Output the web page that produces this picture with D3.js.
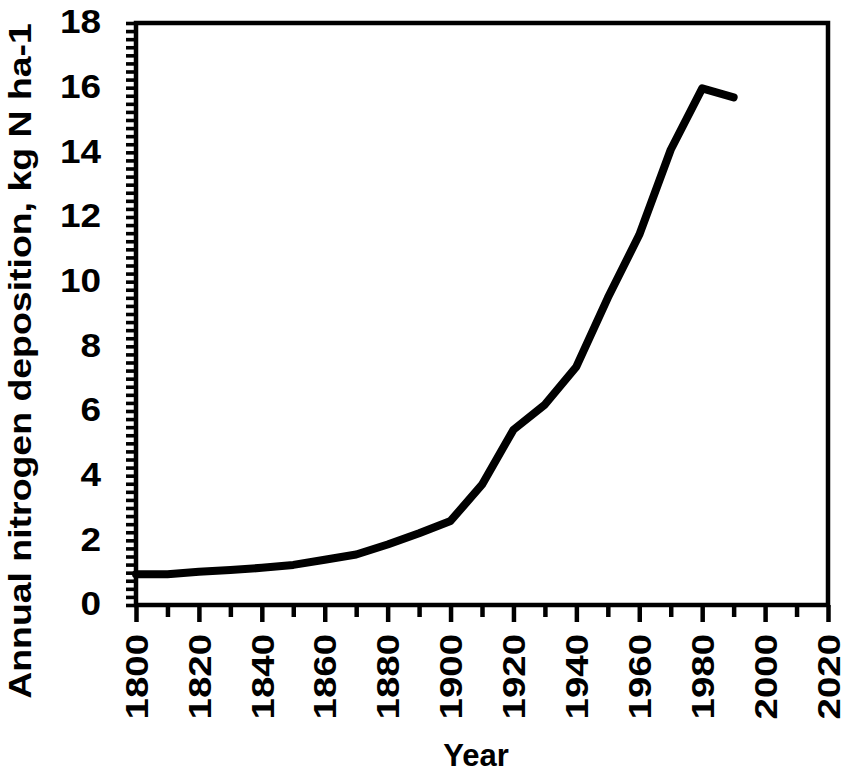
<!DOCTYPE html>
<html>
<head>
<meta charset="utf-8">
<script src="https://cdn.jsdelivr.net/npm/d3@7"></script>
<style>
  html, body { margin: 0; padding: 0; background: #fff; }
  svg { display: block; font-family: "Liberation Sans", Arial, sans-serif; }
</style>
</head>
<body>
<svg id="chart" width="851" height="773"></svg>
<script>
const years = [1800, 1810, 1820, 1830, 1840, 1850, 1860, 1870, 1880, 1890, 1900, 1910, 1920, 1930, 1940, 1950, 1960, 1970, 1980, 1990];
const deposition = [0.95, 0.95, 1.03, 1.08, 1.15, 1.24, 1.4, 1.56, 1.87, 2.22, 2.6, 3.72, 5.42, 6.2, 7.37, 9.5, 11.45, 14.08, 15.98, 15.7];
const xTickValues = [1800, 1820, 1840, 1860, 1880, 1900, 1920, 1940, 1960, 1980, 2000, 2020];
const yTickValues = [0, 2, 4, 6, 8, 10, 12, 14, 16, 18];
const xTitle = "Year";
const yTitle = "Annual nitrogen deposition, kg N ha-1";

const svg = d3.select("#chart");
const mLeft = 136, mRight = 828, mTop = 23, mBottom = 605;

const x = d3.scaleLinear().domain([1800, 2020]).range([mLeft, mRight]);
const y = d3.scaleLinear().domain([0, 18]).range([mBottom, mTop]);

// minor y ticks every 0.25
const yAxisMinor = d3.axisLeft(y).tickValues(d3.range(0, 18.001, 0.25)).tickSize(10).tickFormat("");
const gy = svg.append("g").attr("transform", `translate(${mLeft},0)`).call(yAxisMinor);
gy.select(".domain").remove();
gy.selectAll(".tick line").attr("stroke", "#000").attr("stroke-width", 3.6);

// y labels
const gyl = svg.append("g").attr("transform", `translate(${mLeft},0)`)
  .call(d3.axisLeft(y).tickValues(yTickValues).tickSize(0).tickPadding(0));
gyl.select(".domain").remove();
gyl.selectAll(".tick text")
  .attr("x", null)
  .attr("transform", "translate(-35,0) scale(1.12,1)")
  .attr("dy", "0.3em")
  .attr("text-anchor", "end")
  .style("font-size", "33px").style("font-weight", "bold").style("font-family", "'Liberation Sans', Arial, sans-serif").attr("fill", "#000");

// x ticks: minor every 10, major every 20
const gxMinor = svg.append("g").attr("transform", `translate(0,${mBottom})`)
  .call(d3.axisBottom(x).tickValues(d3.range(1810, 2020, 20)).tickSize(12).tickFormat(""));
gxMinor.select(".domain").remove();
gxMinor.selectAll(".tick line").attr("stroke", "#000").attr("stroke-width", 4.5);

const gx = svg.append("g").attr("transform", `translate(0,${mBottom})`)
  .call(d3.axisBottom(x).tickValues(xTickValues).tickSize(17).tickFormat(d3.format("d")));
gx.select(".domain").remove();
gx.selectAll(".tick line").attr("stroke", "#000").attr("stroke-width", 4.5);
gx.selectAll(".tick text")
  .attr("y", null)
  .attr("transform", "translate(0,29) rotate(-90) scale(1.2,1)")
  .attr("dy", "0.35em")
  .attr("text-anchor", "end")
  .style("font-size", "32px").style("font-weight", "bold").style("font-family", "'Liberation Sans', Arial, sans-serif").attr("fill", "#000");

// frame
svg.append("rect")
  .attr("x", mLeft).attr("y", mTop)
  .attr("width", mRight - mLeft).attr("height", mBottom - mTop)
  .attr("fill", "none").attr("stroke", "#000").attr("stroke-width", 4.5);

// line
const line = d3.line().x((d, i) => x(years[i])).y(d => y(d));
svg.append("path")
  .datum(deposition)
  .attr("d", line)
  .attr("fill", "none")
  .attr("stroke", "#000")
  .attr("stroke-width", 8)
  .attr("stroke-linejoin", "round")
  .attr("stroke-linecap", "round");

// titles
svg.append("text")
  .attr("transform", `translate(476,766)`)
  .attr("text-anchor", "middle")
  .style("font-size", "31px").style("font-weight", "bold")
  .text(xTitle);

svg.append("text")
  .attr("transform", `translate(31,361) rotate(-90) scale(1.17,1)`)
  .attr("text-anchor", "middle")
  .style("font-size", "32px").style("font-weight", "bold")
  .text(yTitle);
</script>
</body>
</html>
